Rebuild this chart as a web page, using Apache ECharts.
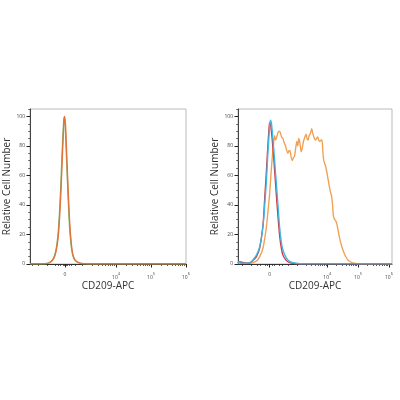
<!DOCTYPE html>
<html><head><meta charset="utf-8">
<script src="https://cdn.jsdelivr.net/npm/echarts@6/dist/echarts.min.js"></script>
<style>html,body{margin:0;padding:0;background:#fff}#c{width:400px;height:400px}</style>
</head><body><div id="c"></div>
<script>
// ---- axis ticks ----
const yTicks = [0, 20, 40, 60, 80, 100];
const yMinorTicks = [5,10,15,25,30,35,45,50,55,65,70,75,85,90,95,105];
const xDecades = [4, 5, 6];
const xLinearTickValues = [-3000,-2000,-1000,-500,-300,-200,-100,-50,50,100,200,300,500,1000];
const xLogTickValues = [2000,3000,4000,5000,6000,7000,8000,9000,
  20000,30000,40000,50000,60000,70000,80000,90000,
  200000,300000,400000,500000,600000,700000,800000,900000];
// position of "0" on each display axis (display units; decade n sits at n)
const leftZero = 2.54, rightZero = 2.13;
const leftRange = [1.54, 6.0], rightRange = [1.10, 6.1];

// ---- series (x in display units, y = relative cell number) ----
const leftGreen = [[1.54,0.2],[1.96,0.2],[2.1,1],[2.215,4],[2.3,12],[2.358,25],[2.415,50],[2.458,75],[2.5,96],[2.515,99],[2.545,94],[2.587,70],[2.63,45],[2.672,25],[2.73,10],[2.787,4],[2.873,1.5],[3.016,0.3],[3.25,0.2],[6.0,0.2]];
const leftOrange = [[1.54,0.3],[1.969,0.3],[2.111,1],[2.226,4],[2.311,12],[2.369,25],[2.426,50],[2.469,75],[2.511,97],[2.526,100],[2.554,95],[2.597,70],[2.64,45],[2.683,25],[2.74,10],[2.797,4],[2.883,1.5],[3.026,0.4],[3.254,0.2],[6.0,0.2]];

const rightRed = [[1.10,0.5],[1.15,1.5],[1.25,1.0],[1.376,0.5],[1.5,1],[1.591,2.5],[1.699,5],[1.806,11],[1.914,27],[1.968,45],[2.022,63],[2.075,82],[2.12,95],[2.14,95.5],[2.183,90],[2.237,78],[2.29,63],[2.344,47],[2.398,32],[2.452,19],[2.505,11],[2.559,6],[2.645,3],[2.72,1.5],[2.828,0.6],[2.989,0.2],[3.2,0.1],[6.1,0.1]];
const rightBlue = [[1.10,0.5],[1.12,1.5],[1.2,0.5],[1.376,0.5],[1.5,1.2],[1.591,3],[1.699,6],[1.806,12],[1.914,26],[1.968,40],[2.022,56],[2.075,77],[2.129,93],[2.151,97.5],[2.183,96],[2.237,84],[2.29,70],[2.344,55],[2.398,40],[2.452,25],[2.505,15],[2.559,9.5],[2.645,5],[2.72,2.7],[2.828,1.2],[2.989,0.5],[3.2,0.1],[6.1,0.1]];
const rightOrange = [[1.107,0.5],[1.2,1.0],[1.3,0.8],[1.484,0.5],[1.591,1],[1.699,2],[1.806,5],[1.914,11],[2.022,25],[2.075,36],[2.129,48],[2.175,62],[2.215,73],[2.26,83],[2.29,87],[2.315,84],[2.344,85],[2.398,89],[2.44,90],[2.473,89],[2.515,86],[2.559,85],[2.6,82],[2.645,80],[2.68,77],[2.72,75],[2.76,77],[2.796,76],[2.83,72],[2.86,70],[2.9,72],[2.935,73],[2.97,78],[3.011,83],[3.04,80],[3.075,85],[3.11,82],[3.151,76],[3.19,79],[3.226,83],[3.27,86],[3.312,88],[3.34,85],[3.376,84],[3.41,87],[3.441,88],[3.47,90],[3.495,91.6],[3.52,89],[3.548,87],[3.58,85],[3.613,84],[3.65,85],[3.688,86],[3.72,84],[3.763,83],[3.8,84],[3.828,84],[3.85,78],[3.871,72],[3.9,69],[3.935,67],[3.978,63],[4.02,58],[4.065,52.6],[4.1,49],[4.14,45.8],[4.17,40],[4.194,33],[4.22,31],[4.247,30],[4.275,29],[4.301,27.9],[4.33,25],[4.366,21],[4.4,17.5],[4.441,14],[4.49,10.5],[4.548,7.3],[4.6,5],[4.656,3],[4.73,1.7],[4.817,0.8],[4.92,0.4],[5.032,0.2],[5.3,0.1],[6.1,0.1]];

const FONT = '"Open Sans", "DejaVu Sans", sans-serif';
// biexponential-like display transform for tick positions
function disp(v, zero) {
  const w = Math.pow(10, zero);
  return zero + Math.asinh(v / (2 * w)) / Math.LN10;
}
function minorPositions(zero, range) {
  return xLinearTickValues.concat(xLogTickValues).map(v => disp(v, zero))
    .filter(t => t > range[0] && t < range[1]);
}

function xAxes(gridIndex, zero, range) {
  const labelVals = [zero].concat(xDecades.filter(d => d <= range[1] + 1e-9));
  return [{
    gridIndex, type: 'value', min: range[0], max: range[1], position: 'bottom',
    name: 'CD209-APC', nameLocation: 'middle', nameGap: 16,
    nameTextStyle: { fontFamily: FONT, fontSize: 10, color: '#333' },
    axisLine: { show: true, lineStyle: { color: '#333', width: 1 } },
    axisTick: { show: true, length: 3.5, customValues: labelVals, lineStyle: { color: '#222', width: 1 } },
    axisLabel: {
      show: true, customValues: labelVals, margin: 8, fontFamily: FONT, fontSize: 5, color: '#444',
      formatter: v => Math.abs(v - zero) < 1e-6 ? '0' : '{b|10}{s|' + Math.round(v) + '}',
      rich: { b: { fontSize: 5, color: '#444', fontFamily: FONT, verticalAlign: 'bottom', lineHeight: 8 },
              s: { fontSize: 4, color: '#444', fontFamily: FONT, verticalAlign: 'top', lineHeight: 8 } }
    },
    splitLine: { show: false }
  }, {
    gridIndex, type: 'value', min: range[0], max: range[1], position: 'bottom',
    axisLine: { show: false },
    axisTick: { show: true, length: 2, customValues: minorPositions(zero, range), lineStyle: { color: '#333', width: 0.8 } },
    axisLabel: { show: false }, splitLine: { show: false }
  }];
}
function yAxes(gridIndex) {
  return [{
    gridIndex, type: 'value', min: 0, max: 105, position: 'left',
    name: 'Relative Cell Number', nameLocation: 'middle', nameGap: 12, nameRotate: 90,
    nameTextStyle: { fontFamily: FONT, fontSize: 10, color: '#333' },
    axisLine: { show: true, lineStyle: { color: '#444', width: 1 } },
    axisTick: { show: true, length: 3.5, customValues: yTicks, lineStyle: { color: '#222', width: 1 } },
    axisLabel: { show: true, customValues: yTicks, margin: 5, fontFamily: FONT, fontSize: 5, color: '#444' },
    splitLine: { show: false }
  }, {
    gridIndex, type: 'value', min: 0, max: 105, position: 'left',
    axisLine: { show: false },
    axisTick: { show: true, length: 1.8, customValues: yMinorTicks, lineStyle: { color: '#444', width: 0.8 } },
    axisLabel: { show: false }, splitLine: { show: false }
  }];
}
function line(data, color, xi, yi, z) {
  return { type: 'line', data, xAxisIndex: xi, yAxisIndex: yi, showSymbol: false, smooth: 0.25,
           lineStyle: { color, width: 1.35 }, z, clip: true, animation: false };
}

const chart = echarts.init(document.getElementById('c'), null, { renderer: 'canvas' });
chart.setOption({
  animation: false,
  backgroundColor: '#fff',
  grid: [
    { left: 30, right: 214, top: 109, bottom: 136, show: true, borderColor: '#aaa', borderWidth: 0.8 },
    { left: 238, right: 8, top: 109, bottom: 136, show: true, borderColor: '#aaa', borderWidth: 0.8 }
  ],
  xAxis: xAxes(0, leftZero, leftRange).concat(xAxes(1, rightZero, rightRange)),
  yAxis: yAxes(0).concat(yAxes(1)),
  series: [
    line(leftGreen, '#7FB069', 0, 0, 2),
    line(leftOrange, '#E2733A', 0, 0, 3),
    line(rightOrange, '#F0A050', 2, 2, 2),
    line(rightRed, '#D2363F', 2, 2, 3),
    line(rightBlue, '#3DB5E6', 2, 2, 4)
  ]
});
</script></body></html>
